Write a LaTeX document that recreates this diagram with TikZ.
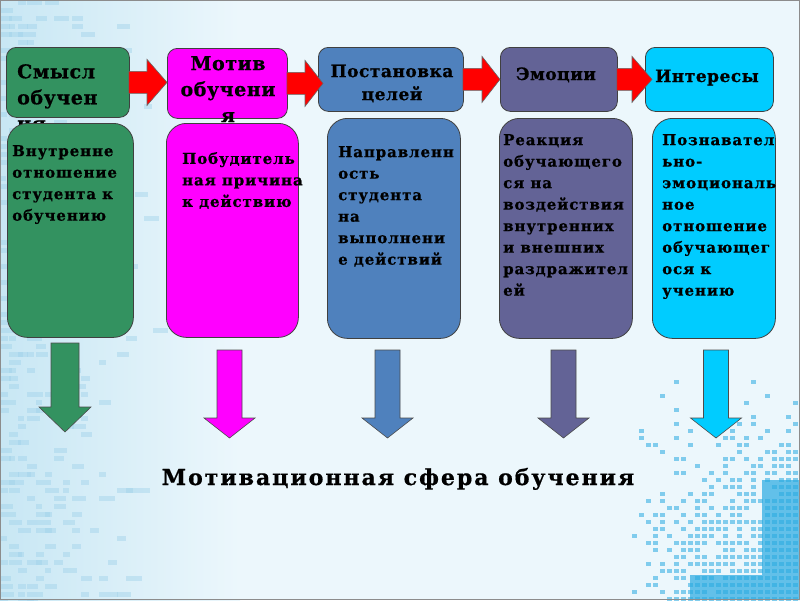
\documentclass[tikz,border=0pt]{standalone}
\usepackage{fontspec}
\setmainfont{DejaVu Serif}
\newfontfamily\boxfont[LetterSpace=6,FakeBold=0.7]{DejaVu Serif Bold}
\newfontfamily\headfont[LetterSpace=3,FakeBold=0.7]{DejaVu Serif Bold}
\newfontfamily\titlefont[LetterSpace=9,FakeBold=0.7]{DejaVu Serif Bold}
\usetikzlibrary{calc}
\definecolor{cgreen}{RGB}{51,146,96}
\definecolor{cmag}{RGB}{255,0,255}
\definecolor{cblue}{RGB}{79,129,189}
\definecolor{cpurp}{RGB}{99,99,150}
\definecolor{ccyan}{RGB}{0,204,255}
\definecolor{bgc}{RGB}{236,247,252}
\definecolor{bgl}{RGB}{200,231,244}
\definecolor{deco}{RGB}{160,210,234}
\definecolor{decob}{RGB}{40,170,225}
\newcommand\myRarrow[4]{%
  \draw[rarrow] let \p1=(#1.east), \p2=(#2.west) in
    (\x1-1pt,\y1+11pt) -- (\x2+#3pt-#4pt,\y1+11pt) -- (\x2+#3pt-#4pt,\y1+23pt)
    -- (\x2+#3pt,\y1) -- (\x2+#3pt-#4pt,\y1-23pt) -- (\x2+#3pt-#4pt,\y1-11pt)
    -- (\x1-1pt,\y1-11pt) -- cycle;}
\newcommand\myDarrow[6]{% tip name, colour, top, half shaft, base, half head
  \draw[darrow,fill=#2] let \p1=(#1) in
    (\x1-#4pt,\y1+#3pt) -- (\x1+#4pt,\y1+#3pt) -- (\x1+#4pt,\y1+#5pt)
    -- (\x1+#6pt,\y1+#5pt) -- (\x1,\y1) -- (\x1-#6pt,\y1+#5pt)
    -- (\x1-#4pt,\y1+#5pt) -- cycle;}
\begin{document}
\begin{tikzpicture}[x=1pt,y=-1pt,
  topbox/.style={draw=black!75, line width=0.8pt, rounded corners=10pt, inner sep=0pt, anchor=north west},
  lowbox/.style={draw=black!75, line width=0.8pt, rounded corners=20pt, inner sep=0pt, anchor=north west},
  toptext/.style={font=\headfont\fontsize{19}{26}\selectfont, inner sep=0pt},
  toptextb/.style={font=\headfont\fontsize{17}{23}\selectfont, inner sep=0pt, align=center},
  lowtext/.style={font=\boxfont\fontsize{15}{21.5}\selectfont, inner sep=0pt, anchor=north west, align=left},
  rarrow/.style={fill=red, draw=black!60, line width=0.6pt},
  darrow/.style={draw=black!70, line width=0.6pt},
  titletext/.style={font=\titlefont\fontsize{22}{26}\selectfont, inner sep=0pt, anchor=base}]
\useasboundingbox (0,0) rectangle (800,600);
% background
\fill[bgc] (0,0) rectangle (800,600);
\shade[left color=bgl, right color=bgc] (0,0) rectangle (240,600);
\pgfmathsetseed{11}
\foreach \gx in {0,9,...,170} {
  \foreach \gy in {0,8,...,600} {
    \pgfmathsetmacro\pp{0.55*(1-\gx/175)*(1-\gx/175)}
    \pgfmathsetmacro\rr{rnd}
    \pgfmathsetmacro\ww{6+rnd*10}
    \ifdim\rr pt<\pp pt
      \fill[deco, opacity=0.45] (\gx,\gy) rectangle ++(\ww,5);
    \fi
  }
}
\foreach \gx in {632,639,...,800} {
  \foreach \gy in {380,387,...,600} {
    \pgfmathsetmacro\pp{1.7*((\gx-620)/180)*((\gy-370)/230)}
    \pgfmathsetmacro\rr{rnd}
    \ifdim\rr pt<\pp pt
      \fill[decob, opacity=0.55] (\gx,\gy) rectangle ++(5,4);
    \fi
  }
}
\fill[decob, opacity=0.7] (762,480) -- (800,480) -- (800,600) -- (690,600) -- (690,575) -- (762,575) -- cycle;
\draw[black!45, line width=1pt] (0.5,0.5) rectangle (799.5,599.5);
% top boxes
\node[topbox, fill=cgreen, minimum width=123pt, minimum height=70pt] (t1) at (6,47) {};
\node[topbox, fill=cmag,   minimum width=120pt, minimum height=70pt] (t2) at (167,48) {};
\node[topbox, fill=cblue,  minimum width=145pt, minimum height=64pt] (t3) at (318,47) {};
\node[topbox, fill=cpurp,  minimum width=117pt, minimum height=64pt] (t4) at (500,47) {};
\node[topbox, fill=ccyan,  minimum width=128pt, minimum height=64pt] (t5) at (645,47) {};
% top texts
\node[toptext, anchor=north west, align=left] (tt1) at (17,64) {Смысл\\обучен\\ия};
\node[toptext, anchor=north, align=center] (tt2) at (228,56) {Мотив\\обучени\\я};
\node[toptextb, anchor=north] (tt3) at (392,64.5) {Постановка\\целей};
\node[toptextb, anchor=base] (tt4) at (556,80) {Эмоции};
\node[toptextb, anchor=base] (tt5) at (707,82) {Интересы};
% lower boxes
\node[lowbox, fill=cgreen, minimum width=126pt, minimum height=214pt] (l1) at (7,123) {};
\node[lowbox, fill=cmag,   minimum width=132pt, minimum height=214pt] (l2) at (166,123) {};
\node[lowbox, fill=cblue,  minimum width=133pt, minimum height=220pt] (l3) at (327,118) {};
\node[lowbox, fill=cpurp,  minimum width=133pt, minimum height=220pt] (l4) at (499,118) {};
\node[lowbox, fill=ccyan,  minimum width=123pt, minimum height=220pt] (l5) at (652,118) {};
% lower texts
\node[lowtext] (lt1) at (12,145) {Внутренне\\отношение\\студента к\\обучению};
\node[lowtext] (lt2) at (182,152) {Побудитель\\ная причина\\к действию};
\node[lowtext] (lt3) at (338,146) {Направленн\\ость\\студента\\на\\выполнени\\е действий};
\node[lowtext] (lt4) at (503,134) {Реакция\\обучающего\\ся на\\воздействия\\внутренних\\и внешних\\раздражител\\ей};
\node[lowtext] (lt5) at (662,134) {Познавател\\ьно-\\эмоциональ\\ное\\отношение\\обучающег\\ося к\\учению};
% red arrows
\myRarrow{t1}{t2}{0}{20}
\myRarrow{t2}{t3}{5}{18}
\myRarrow{t3}{t4}{0}{18}
\myRarrow{t4}{t5}{7}{20}
% down arrows
\coordinate (e1) at (65,432);
\coordinate (e2) at (229.5,438);
\coordinate (e3) at (387.5,438);
\coordinate (e4) at (563.5,438);
\coordinate (e5) at (716,438);
\myDarrow{e1}{cgreen}{89}{14}{25}{26}
\myDarrow{e2}{cmag}{88}{12.5}{20}{25.5}
\myDarrow{e3}{cblue}{88}{12.5}{20}{25.5}
\myDarrow{e4}{cpurp}{88}{12.5}{20}{25.5}
\myDarrow{e5}{ccyan}{88}{12.5}{20}{25.5}
% title
\node[titletext] (title) at (398,485) {Мотивационная сфера обучения};
\end{tikzpicture}
\end{document}
